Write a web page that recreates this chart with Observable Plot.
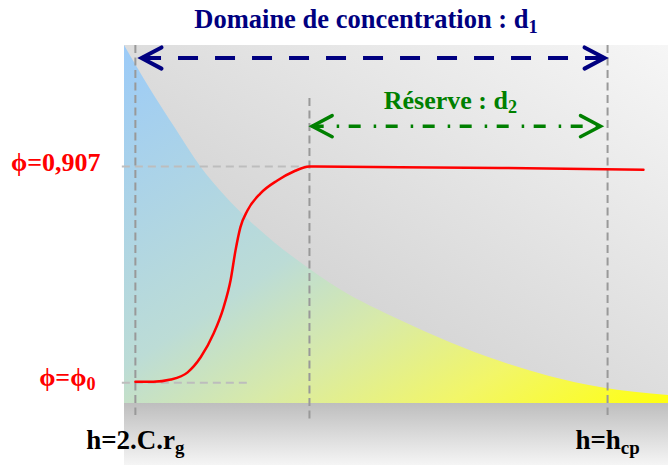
<!DOCTYPE html>
<html>
<head>
<meta charset="utf-8">
<script src="https://cdn.jsdelivr.net/npm/d3@7"></script>
<script src="https://cdn.jsdelivr.net/npm/@observablehq/plot@0.6"></script>
<style>
  html, body { margin: 0; padding: 0; background: #fff; }
</style>
</head>
<body>
<div id="chart"></div>
<script>
// ---- Data (schematic units: h along x, 0..100 ; phi / thickness along y) ----
const xDomain = [0, 100];
const yDomain = [-17.32, 100];          // floor of the coloured region at 0
const panelTop = 100;
const floorY = 0;

// decreasing boundary of the coloured (blue→yellow) region
const boundaryX = [0, 4.78, 9.38, 13.97, 18.57, 23.16, 27.76, 32.35, 39.71, 50.74, 59.93, 69.12, 78.31, 87.5, 100];
const boundaryY = [100, 87.7, 76.8, 66.2, 57.8, 50.8, 44.7, 39.4, 31.8, 23.2, 17.0, 11.7, 7.5, 4.5, 2.2];

// phi(h) red curve
const phiX = [2.0, 5.3, 8.5, 11.6, 14.0, 16.4, 18.2, 19.5, 20.4, 21.3, 22.6, 25.0, 28.1, 31.1, 34.0, 50.7, 69.1, 95.4];
const phiY = [6.1, 6.1, 6.7, 8.7, 12.9, 19.6, 26.8, 34.4, 42.7, 49.2, 53.9, 58.7, 62.3, 64.8, 66.2, 66.0, 65.8, 65.3];

// characteristic h positions : h=2.C.rg, start of reserve, h=hcp
const hMarks = [2, 34, 88.8];
const hMarkTop = [100, 85.2, 100];
const hMarkBottom = [-3.35, -5.3, -3.35];
const hLabels = ["h=2.C.r_g", "h=h_cp"];
const hLabelX = [2, 88.8];

// phi levels
const phiMax = 66.2;      // phi = 0,907
const phi0 = 5.8;         // phi = phi0
const phiMaxLineEnd = 34;
const phi0LineEnd = 22.8;
const phiLabels = ["ϕ=0,907", "ϕ=ϕ_0"];

// double arrows
const d1 = {x1: 3.13, x2: 88.24, y: 96.5};
const d2 = {x1: 34.5, x2: 87.5, y: 77.46};
const titleText = "Domaine de concentration : d_1";
const reserveText = "Réserve : d_2";

// ---- Arrow-head symbols ----
const chevronRight = {draw(ctx, size) { const r = Math.sqrt(size / Math.PI); ctx.moveTo(-r, -0.53 * r); ctx.lineTo(0, 0); ctx.lineTo(-r, 0.53 * r); }};
const chevronLeft  = {draw(ctx, size) { const r = Math.sqrt(size / Math.PI); ctx.moveTo(r, -0.53 * r); ctx.lineTo(0, 0); ctx.lineTo(r, 0.53 * r); }};

const serif = "'Liberation Serif','Times New Roman',serif";

const chart = Plot.plot({
  width: 668,
  height: 465,
  marginLeft: 124,
  marginRight: 0,
  marginTop: 45,
  marginBottom: 0,
  x: {domain: xDomain, axis: null},
  y: {domain: yDomain, axis: null},
  style: {background: "white", fontFamily: serif},
  marks: [
    // grey panel and bottom band
    Plot.rect([0], {x1: xDomain[0], x2: xDomain[1], y1: floorY, y2: panelTop, fill: "url(#panelGrad)"}),
    Plot.rect([0], {x1: xDomain[0], x2: xDomain[1], y1: yDomain[0], y2: floorY, fill: "url(#bandGrad)"}),
    // coloured region
    Plot.areaY(boundaryX, {x: boundaryX, y: boundaryY, curve: "monotone-x", fill: "url(#colorGrad)"}),
    // horizontal dashed guides
    Plot.ruleY([phiMax], {x1: -0.4, x2: phiMaxLineEnd, stroke: "#bdbdbd", strokeWidth: 2, strokeDasharray: "8,5"}),
    Plot.ruleY([phi0], {x1: -0.4, x2: phi0LineEnd, stroke: "#bdbdbd", strokeWidth: 2, strokeDasharray: "8,5"}),
    // vertical dashed guides
    Plot.ruleX(hMarks, {x: d => d, y1: (d, i) => hMarkTop[i], y2: (d, i) => hMarkBottom[i], stroke: "#999", strokeWidth: 2, strokeDasharray: "8,4.5"}),
    // red curve
    Plot.line(phiX, {x: phiX, y: phiY, curve: "monotone-x", stroke: "#ff0000", strokeWidth: 2.5}),
    // double arrow d1 (navy dashed)
    Plot.ruleY([d1.y], {x1: d1.x1, x2: d1.x2, stroke: "#000080", strokeWidth: 4, strokeDasharray: "20,17"}),
    Plot.dot([d1.x1], {x: d => d, y: d1.y, symbol: chevronLeft, r: 20, fill: "none", stroke: "#000080", strokeWidth: 4, strokeLinecap: "round", strokeLinejoin: "miter"}),
    Plot.dot([d1.x2], {x: d => d, y: d1.y, symbol: chevronRight, r: 20, fill: "none", stroke: "#000080", strokeWidth: 4, strokeLinecap: "round", strokeLinejoin: "miter"}),
    // double arrow d2 (green dash-dot)
    Plot.ruleY([d2.y], {x1: d2.x1, x2: d2.x2, stroke: "#008000", strokeWidth: 3.5, strokeDasharray: "12,13,2.5,9.5"}),
    Plot.dot([d2.x1], {x: d => d, y: d2.y, symbol: chevronLeft, r: 20, fill: "none", stroke: "#008000", strokeWidth: 3.5, strokeLinecap: "round", strokeLinejoin: "miter"}),
    Plot.dot([d2.x2], {x: d => d, y: d2.y, symbol: chevronRight, r: 20, fill: "none", stroke: "#008000", strokeWidth: 3.5, strokeLinecap: "round", strokeLinejoin: "miter"}),
    // texts
    Plot.text([titleText], {x: (d1.x1 + d1.x2) / 2, y: d1.y, dx: -7, dy: -30, lineAnchor: "bottom", fill: "#000080", fontSize: 26.5, fontWeight: "bold", fontFamily: serif}),
    Plot.text([reserveText], {x: (d2.x1 + d2.x2) / 2, y: d2.y, dx: -6, dy: -17.5, lineAnchor: "bottom", fill: "#008000", fontSize: 26, fontWeight: "bold", fontFamily: serif}),
    Plot.text([phiLabels[0]], {x: xDomain[0], y: phiMax, dx: -24, dy: 4.5, textAnchor: "end", lineAnchor: "bottom", fill: "#ff0000", fontSize: 26, fontWeight: "bold", fontFamily: serif}),
    Plot.text([phiLabels[1]], {x: xDomain[0], y: phi0, dx: -29, dy: 3, textAnchor: "end", lineAnchor: "bottom", fill: "#ff0000", fontSize: 26, fontWeight: "bold", fontFamily: serif}),
    Plot.text(hLabels, {x: (d, i) => hLabelX[i], y: floorY, dy: 45.3, lineAnchor: "bottom", fill: "#000", fontSize: 27, fontWeight: "bold", fontFamily: serif})
  ]
});

// gradient definitions
const svg = d3.select(chart);
const defs = svg.insert("defs", ":first-child");
function grad(id, x1, y1, x2, y2, stops) {
  const g = defs.append("linearGradient").attr("id", id)
    .attr("x1", x1).attr("y1", y1).attr("x2", x2).attr("y2", y2);
  stops.forEach(([o, c]) => g.append("stop").attr("offset", o).attr("stop-color", c));
}
grad("panelGrad", 1, 0, 0, 1, [[0, "#f6f6f6"], [1, "#c4c4c4"]]);
grad("bandGrad", 0, 0, 0, 1, [[0, "#bebebe"], [1, "#f5f5f5"]]);
grad("colorGrad", 0, 0, 1, 1, [[0, "#9ccbf8"], [0.45, "#bcdcd6"], [0.62, "#d8eaa8"], [0.8, "#f2f668"], [1, "#ffff10"]]);

// subscripts
svg.selectAll("text").each(function () {
  const t = this.textContent;
  if (!t.includes("_")) return;
  const [a, b] = t.split("_");
  this.textContent = "";
  const s = d3.select(this);
  s.append("tspan").text(a);
  s.append("tspan").attr("font-size", "70%").attr("dy", "0.25em").text(b);
});

document.getElementById("chart").appendChild(chart);
</script>
</body>
</html>
